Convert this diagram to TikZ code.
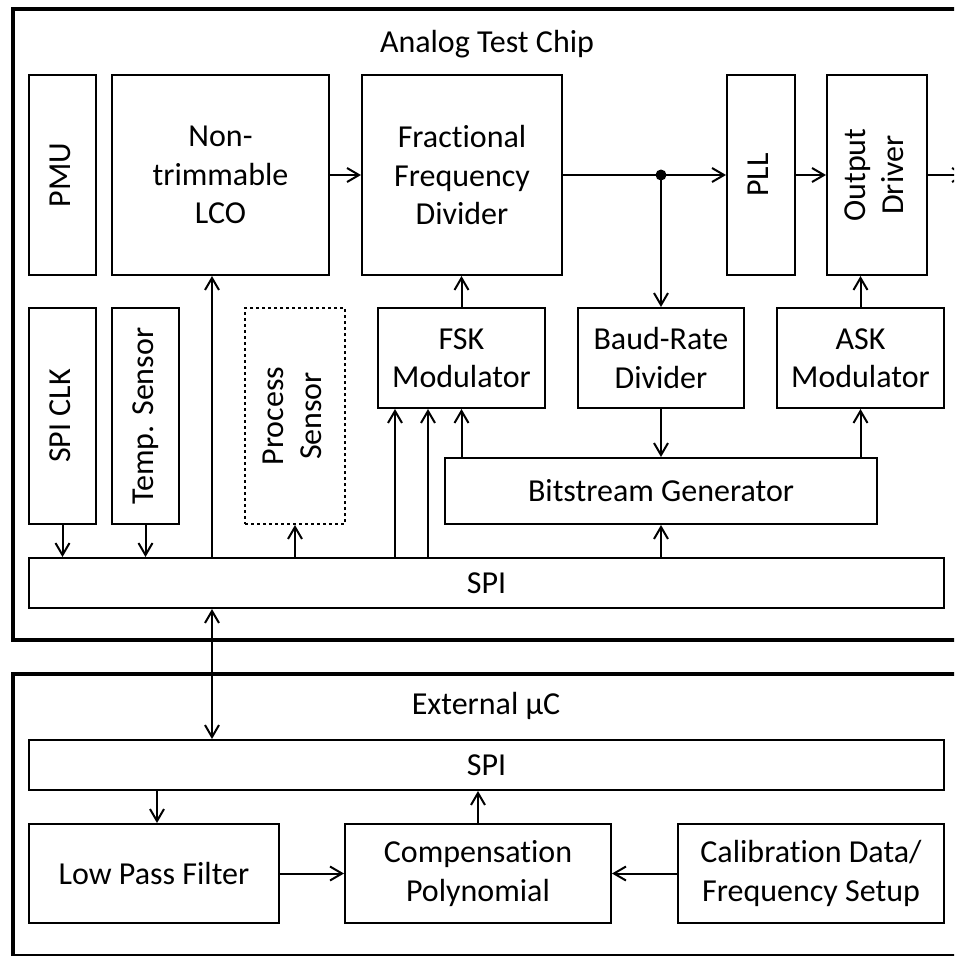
\documentclass[tikz,border=0pt]{standalone}
\usepackage{fontspec}
\setmainfont{Carlito}[Ligatures=NoCommon]
\usepackage{graphicx}
\usetikzlibrary{arrows.meta}
\newcommand{\rtxt}[1]{\rotatebox{90}{\begin{tabular}{@{}c@{}}#1\end{tabular}}}
\begin{document}
\begin{tikzpicture}[x=1pt,y=-1pt,
  every node/.style={font=\fontsize{32pt}{38.5pt}\selectfont},
  box/.style={draw,line width=2pt,inner sep=0pt,align=center},
  dottedbox/.style={box,dash pattern=on 3pt off 3pt},
  conn/.style={line width=2pt,->},
  biconn/.style={line width=2pt,<->},
  frame/.style={line width=4pt},
  >={Straight Barb[length=12pt,width=14pt]}]
\useasboundingbox (0,0) rectangle (954,956);
\clip (0,0) rectangle (954,956);
\fill[white] (0,0) rectangle (954,956);
% frames
\draw[frame] (1000,9) -- (13,9) -- (13,640) -- (1000,640);
\draw[frame] (1000,674) -- (13,674) -- (13,956) -- (1000,956);
\node (t1) at (487,44) {Analog Test Chip};
\node (t2) at (486,706) {External µC};
% top row
\node[box,minimum width=67pt,minimum height=200pt] (pmu) at (62.5,175) {\rtxt{PMU}};
\node[box,minimum width=217pt,minimum height=200pt] (lco) at (220.5,175) {Non-\\trimmable\\LCO};
\node[box,minimum width=200pt,minimum height=200pt] (ffd) at (462,175) {Fractional\\Frequency\\Divider};
\node[box,minimum width=68pt,minimum height=200pt] (pll) at (761,175) {\rtxt{PLL}};
\node[box,minimum width=100pt,minimum height=200pt] (odrv) at (877,175) {\rtxt{Output\\Driver}};
\coordinate (out) at (966,175);
% second row
\node[box,minimum width=67pt,minimum height=216pt] (spiclk) at (62.5,416) {\rtxt{SPI CLK}};
\node[box,minimum width=67pt,minimum height=216pt] (temp) at (145.5,416) {\rtxt{Temp. Sensor}};
\node[dottedbox,minimum width=100pt,minimum height=216pt] (proc) at (295,416) {\rtxt{Process\\Sensor}};
\node[box,minimum width=167pt,minimum height=100pt] (fsk) at (461.5,358) {FSK\\Modulator};
\node[box,minimum width=166pt,minimum height=100pt] (baud) at (661,358) {Baud-Rate\\Divider};
\node[box,minimum width=167pt,minimum height=100pt] (ask) at (860.5,358) {ASK\\Modulator};
\node[box,minimum width=432pt,minimum height=66pt] (bits) at (661,491) {Bitstream Generator};
\node[box,minimum width=915pt,minimum height=50pt] (spi) at (486.5,583) {SPI};
% external
\node[box,minimum width=915pt,minimum height=50pt] (espi) at (486.5,765) {SPI};
\node[box,minimum width=250pt,minimum height=99pt] (lpf) at (154,873.5) {Low Pass Filter};
\node[box,minimum width=266pt,minimum height=99pt] (comp) at (478,873.5) {Compensation\\Polynomial};
\node[box,minimum width=266pt,minimum height=99pt] (cal) at (811,873.5) {Calibration Data/\\Frequency Setup};
% bus x positions
\coordinate (xl) at (212,0);
\coordinate (xf1) at (395,0);
\coordinate (xf2) at (428,0);
\coordinate (xlp) at (157,0);
% connectors top
\draw[conn] (lco.east) -- (ffd.west);
\draw[conn] (ffd.east) -- (pll.west);
\draw[conn] (pll.east) -- (odrv.west);
\draw[conn] (odrv.east) -- (out);
\fill (ffd.east -| baud.north) circle (5.5pt);
\draw[conn] (ffd.east -| baud.north) -- (baud.north);
\draw[conn] (fsk.north) -- (fsk.north |- ffd.south);
\draw[conn] (ask.north) -- (ask.north |- odrv.south);
\draw[conn] (baud.south) -- (baud.south |- bits.north);
\draw[conn] (bits.north -| ask.south) -- (ask.south);
\draw[conn] (bits.north -| fsk.south) -- (fsk.south);
\draw[conn] (spi.north -| bits.south) -- (bits.south);
\draw[conn] (spi.north -| xf1) -- (fsk.south -| xf1);
\draw[conn] (spi.north -| xf2) -- (fsk.south -| xf2);
\draw[conn] (spi.north -| proc.south) -- (proc.south);
\draw[conn] (spi.north -| xl) -- (lco.south -| xl);
\draw[conn] (spiclk.south) -- (spiclk.south |- spi.north);
\draw[conn] (temp.south) -- (temp.south |- spi.north);
\draw[biconn] (spi.south -| xl) -- (espi.north -| xl);
% connectors external
\draw[conn] (espi.south -| xlp) -- (lpf.north -| xlp);
\draw[conn] (comp.north) -- (comp.north |- espi.south);
\draw[conn] (lpf.east) -- (comp.west);
\draw[conn] (cal.west) -- (comp.east);
\end{tikzpicture}
\end{document}
